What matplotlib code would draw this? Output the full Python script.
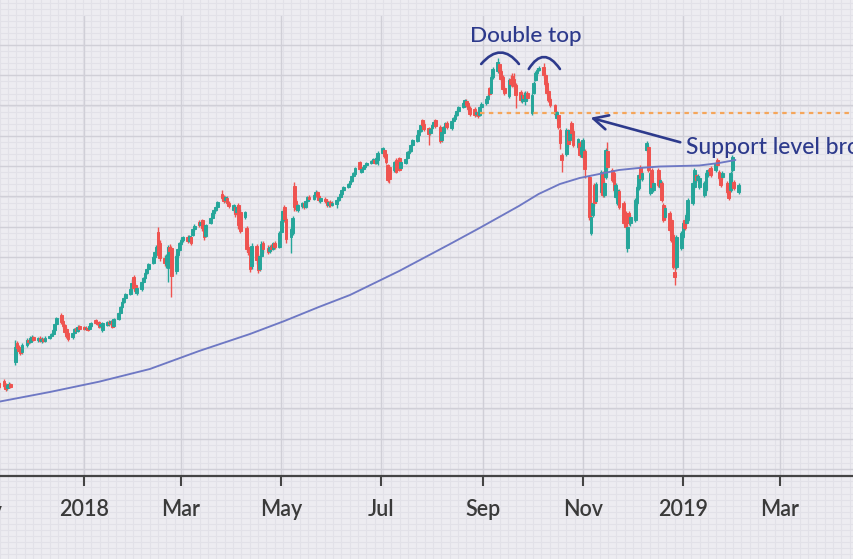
import matplotlib
matplotlib.use("Agg")
import matplotlib.pyplot as plt
import matplotlib.dates as mdates
from matplotlib.path import Path
from matplotlib.patches import PathPatch
from matplotlib.ticker import MultipleLocator, FuncFormatter
import numpy as np
import pandas as pd

# ---------------- data (one row per trading week) ----------------
opens = [
    88, 86,
    88, 84, 81, 83, 85,
    107, 126, 122, 119, 117,
    124, 129, 127, 130, 132,
    129, 131, 128, 130, 128,
    131, 133, 135, 139, 145,
    154, 148, 144, 140, 136,
    132, 136, 141, 138, 143,
    142, 140, 141, 140, 143,
    149, 147, 147, 143, 139,
    144, 147, 146, 148, 143,
    150, 156, 162, 167, 171,
    175, 181, 192, 184, 176,
    180, 187, 191, 196, 200,
    206, 212, 217, 237, 226,
    211, 205, 201, 222, 221,
    198, 214, 219, 225, 229,
    232, 228, 232, 234, 240,
    247, 244, 249, 241, 233,
    246, 251, 256, 259, 262,
    275, 272, 269, 271, 266,
    259, 262, 257, 264, 257,
    252, 241, 222, 217, 203,
    223, 211, 200, 213, 226,
    221, 218, 222, 220, 226,
    222, 237, 249, 262, 250,
    232, 236, 283, 268, 259,
    263, 266, 262, 268, 272,
    270, 274, 277, 273, 268,
    270, 268, 264, 267, 264,
    265, 269, 272, 275, 279,
    282, 285, 288, 293, 295,
    307, 297, 300, 302, 304,
    306, 308, 309, 306, 309,
    316, 319, 315, 304, 302,
    299, 309, 309, 311, 301,
    306, 311, 316, 318, 324,
    328, 334, 338, 349, 345,
    341, 336, 341, 344, 349,
    342, 329, 336, 342, 346,
    341, 348, 350, 354, 358,
    362, 366, 368, 366, 361,
    360, 355, 357, 354, 362,
    366, 370, 381, 376, 392,
    398, 405, 398, 392, 381,
    373, 390, 393, 390, 384,
    377, 368, 374, 368, 376,
    356, 376, 389, 396, 399,
    402, 394, 386, 378, 370,
    364, 351, 354, 339, 314,
    315, 338, 329, 346, 338,
    322, 326, 315, 312, 318,
    292, 236, 254, 284, 268,
    277, 296, 274, 292, 318,
    299, 296, 272, 266, 278,
    266, 256, 221, 256, 246,
    249, 266, 281, 302, 290,
    319, 322, 276, 299, 279,
    299, 282, 286, 264, 252,
    256, 249, 234, 197, 202,
    221, 232, 249, 246, 249,
    266, 282, 294, 289, 282,
    274, 279, 294, 299, 301,
    299, 309, 297, 294, 292,
    286, 282, 279, 299, 287,
    277,
]
closes = [
    85, 82,
    83, 80, 84, 85, 82,
    122, 121, 118, 116, 124,
    129, 127, 131, 132, 129,
    131, 128, 130, 128, 131,
    133, 135, 139, 145, 151,
    147, 143, 137, 133, 130,
    136, 140, 138, 142, 140,
    140, 141, 139, 143, 146,
    146, 145, 142, 145, 146,
    147, 145, 148, 142, 150,
    156, 162, 167, 171, 175,
    180, 186, 181, 178, 181,
    187, 191, 196, 200, 205,
    212, 217, 222, 214, 211,
    206, 213, 222, 218, 193,
    213, 220, 226, 229, 232,
    228, 233, 226, 240, 243,
    244, 247, 241, 232, 244,
    251, 256, 259, 262, 267,
    271, 268, 272, 266, 263,
    264, 255, 262, 244, 238,
    257, 220, 217, 200, 223,
    209, 199, 213, 225, 220,
    217, 222, 220, 226, 222,
    236, 248, 258, 250, 230,
    240, 251, 262, 260, 264,
    266, 262, 268, 272, 270,
    274, 277, 273, 269, 271,
    268, 264, 267, 264, 266,
    269, 272, 275, 279, 282,
    285, 288, 293, 296, 301,
    300, 300, 302, 304, 306,
    308, 310, 306, 311, 316,
    321, 313, 307, 289, 290,
    307, 297, 302, 299, 307,
    310, 317, 318, 324, 329,
    334, 339, 344, 344, 340,
    335, 340, 344, 347, 343,
    328, 337, 342, 346, 342,
    348, 351, 354, 358, 362,
    366, 369, 364, 360, 355,
    354, 357, 353, 362, 365,
    370, 373, 375, 392, 400,
    407, 398, 390, 380, 376,
    389, 385, 384, 383, 374,
    369, 374, 371, 376, 371,
    374, 386, 396, 399, 401,
    394, 385, 376, 369, 364,
    355, 357, 342, 326, 309,
    339, 325, 339, 336, 324,
    330, 314, 322, 329, 300,
    252, 252, 266, 266, 285,
    297, 274, 286, 319, 302,
    289, 279, 284, 279, 262,
    246, 242, 242, 246, 252,
    269, 282, 294, 291, 296,
    326, 299, 296, 282, 286,
    284, 289, 269, 249, 261,
    239, 229, 202, 192, 232,
    236, 246, 241, 254, 269,
    286, 299, 289, 293, 291,
    286, 296, 299, 298, 294,
    306, 304, 291, 284, 296,
    277, 271, 296, 312, 281,
    284,
]
highs = [
    90, 87,
    90, 86, 85, 87, 86,
    129, 128, 124, 121, 126,
    131, 131, 133, 134, 133,
    132, 133, 132, 131, 133,
    134, 136, 140, 146, 152,
    156, 149, 145, 142, 137,
    137, 141, 142, 144, 144,
    143, 143, 142, 144, 147,
    150, 148, 148, 146, 147,
    148, 149, 149, 149, 151,
    157, 163, 168, 173, 176,
    181, 190, 194, 186, 182,
    188, 192, 197, 201, 206,
    213, 218, 224, 242, 229,
    214, 215, 224, 225, 223,
    215, 221, 227, 231, 233,
    234, 234, 233, 241, 245,
    249, 248, 250, 243, 245,
    252, 257, 260, 264, 268,
    279, 274, 273, 273, 268,
    265, 263, 264, 266, 260,
    258, 243, 225, 219, 226,
    225, 214, 215, 228, 228,
    224, 224, 225, 227, 228,
    238, 250, 260, 264, 252,
    242, 253, 287, 270, 265,
    267, 268, 269, 273, 274,
    275, 279, 278, 274, 272,
    272, 270, 268, 269, 268,
    270, 273, 276, 280, 283,
    286, 289, 294, 297, 302,
    308, 301, 303, 305, 307,
    309, 311, 311, 312, 318,
    322, 320, 316, 305, 304,
    308, 311, 311, 312, 308,
    311, 318, 320, 325, 330,
    335, 340, 345, 350, 347,
    342, 341, 345, 349, 350,
    344, 338, 343, 347, 348,
    349, 352, 356, 360, 363,
    367, 370, 370, 367, 363,
    362, 359, 358, 364, 367,
    371, 375, 382, 394, 402,
    411, 407, 400, 394, 383,
    391, 394, 396, 396, 386,
    379, 376, 377, 378, 378,
    376, 388, 398, 401, 403,
    406, 396, 388, 380, 372,
    365, 358, 355, 341, 316,
    341, 340, 340, 348, 340,
    331, 328, 324, 331, 320,
    294, 254, 268, 286, 287,
    299, 298, 288, 321, 327,
    301, 298, 286, 281, 280,
    268, 258, 244, 258, 254,
    271, 284, 296, 304, 298,
    328, 324, 298, 301, 288,
    301, 291, 288, 266, 263,
    258, 251, 236, 202, 234,
    238, 248, 251, 256, 271,
    288, 301, 296, 295, 293,
    288, 298, 300, 301, 303,
    308, 311, 299, 296, 298,
    288, 284, 298, 314, 289,
    286,
]
lows = [
    83, 80,
    81, 78, 79, 82, 81,
    104, 119, 116, 114, 115,
    122, 125, 126, 129, 128,
    127, 127, 126, 127, 127,
    130, 132, 134, 138, 144,
    145, 141, 135, 131, 128,
    130, 135, 137, 137, 139,
    139, 139, 138, 139, 142,
    145, 144, 141, 141, 137,
    143, 143, 144, 141, 142,
    149, 155, 161, 166, 170,
    174, 180, 179, 176, 174,
    178, 186, 190, 195, 199,
    205, 211, 216, 212, 208,
    203, 201, 187, 215, 172,
    195, 212, 217, 224, 227,
    226, 227, 224, 233, 238,
    242, 243, 238, 229, 232,
    245, 250, 254, 258, 261,
    269, 266, 267, 264, 261,
    257, 252, 254, 240, 236,
    250, 217, 214, 197, 200,
    205, 196, 198, 212, 216,
    215, 216, 218, 219, 220,
    221, 236, 248, 247, 226,
    216, 234, 258, 258, 257,
    261, 260, 261, 266, 268,
    269, 272, 271, 267, 266,
    266, 262, 262, 262, 263,
    261, 268, 271, 274, 278,
    281, 284, 287, 292, 294,
    298, 296, 299, 301, 303,
    305, 307, 305, 305, 304,
    315, 311, 305, 287, 286,
    297, 296, 300, 298, 300,
    305, 310, 315, 317, 323,
    327, 333, 337, 342, 338,
    324, 334, 340, 343, 341,
    326, 327, 335, 341, 340,
    339, 346, 349, 353, 357,
    361, 365, 362, 358, 353,
    352, 353, 351, 353, 361,
    364, 369, 373, 375, 390,
    396, 396, 388, 378, 374,
    371, 383, 382, 381, 361,
    367, 366, 369, 364, 369,
    354, 375, 388, 394, 398,
    391, 383, 374, 367, 362,
    353, 349, 340, 320, 297,
    313, 322, 327, 334, 322,
    320, 312, 313, 310, 291,
    249, 234, 252, 263, 266,
    275, 272, 272, 290, 300,
    287, 277, 270, 264, 260,
    244, 240, 217, 244, 243,
    247, 264, 279, 289, 288,
    317, 297, 274, 280, 277,
    282, 280, 267, 247, 250,
    237, 227, 200, 184, 200,
    219, 230, 239, 244, 247,
    264, 280, 287, 287, 280,
    272, 277, 292, 296, 292,
    297, 302, 289, 282, 290,
    275, 269, 277, 297, 279,
    275,
]
first_day = "2017-11-09"

# long moving-average line (read at points along the curve)
ma_dates = ["2017-11-09", "2017-12-11", "2018-01-10", "2018-02-10", "2018-02-25",
            "2018-03-12", "2018-04-12", "2018-05-03", "2018-05-24", "2018-06-12",
            "2018-07-12", "2018-08-12", "2018-08-30", "2018-09-11", "2018-09-23",
            "2018-10-05", "2018-10-18", "2018-10-30", "2018-11-11", "2018-11-23",
            "2018-12-05", "2018-12-18", "2018-12-30", "2019-01-11", "2019-01-23",
            "2019-02-02"]
ma_values = [67, 77, 87.3, 100, 109, 118, 135, 148, 162, 174,
             198, 225, 241, 252, 263, 275, 285, 291, 295, 299,
             301, 302.5, 303, 303.5, 306, 309]

support_level = 356
support_start = "2018-08-30"

tick_months = ["2018-01-01", "2018-03-01", "2018-05-01", "2018-07-01",
               "2018-09-01", "2018-11-01", "2019-01-01", "2019-03-01"]

# ---------------- style ----------------
BG = "#EDECF1"
MINOR = "#E2E1E8"
MAJOR = "#D0CFD7"
UP = "#26A69A"
DOWN = "#EF5350"
MA_COL = "#6E78C4"
SUP_COL = "#F5A65B"
NAVY = "#2D3A8C"
FONT = ["Lato", "DejaVu Sans"]

W, H = 854, 559
fig = plt.figure(figsize=(W / 100, H / 100), dpi=100)
fig.patch.set_facecolor(BG)

# paper texture (fine grid over the whole figure)
bg = fig.add_axes([0, 0, 1, 1])
bg.set_xlim(0, W)
bg.set_ylim(H, 0)
bg.axis("off")
bg.set_zorder(0)
for xv in np.arange(83.0 - 8.333 * 10, W + 1, 8.333):
    bg.axvline(xv, color=MINOR, lw=0.75)
for yv in np.arange(439.0 - 6.06 * 73, H + 1, 6.06):
    bg.axhline(yv, color=MINOR, lw=0.75)

ax = fig.add_axes([0, 83 / H, 1, 460 / H])
ax.set_facecolor("none")
ax.set_zorder(1)

x = mdates.date2num(pd.bdate_range(first_day, periods=len(opens)))
o = np.array(opens, float)
c = np.array(closes, float)
h = np.array(highs, float)
l = np.array(lows, float)
col = np.where(c >= o, UP, DOWN)

ax.vlines(x, l, h, colors=col, lw=1.0, zorder=3)
ax.bar(x, np.maximum(np.abs(c - o), 1.0), bottom=np.minimum(o, c), width=1.7,
       color=col, edgecolor=col, linewidth=0.7, zorder=4)

ax.plot(mdates.date2num(pd.to_datetime(ma_dates)), ma_values, color=MA_COL,
        lw=1.35, zorder=5, solid_capstyle="round", solid_joinstyle="round")

base = mdates.date2num(pd.Timestamp("2018-01-01"))
ax.set_xlim(base - 51.4, base + 469.3)
ax.set_ylim(-7, 453)

ax.plot([mdates.date2num(pd.Timestamp(support_start)), base + 480],
        [support_level, support_level], color=SUP_COL, lw=1.6,
        linestyle=(0, (2.0, 2.0)), zorder=5, clip_on=True)

# grid + axes
ax.yaxis.set_major_locator(MultipleLocator(30.3))
ax.set_xticks(mdates.date2num(pd.to_datetime(tick_months)))


def fmt(v, pos):
    d = mdates.num2date(v)
    return str(d.year) if d.month == 1 else d.strftime("%b")


ax.xaxis.set_major_formatter(FuncFormatter(fmt))
ax.grid(True, which="major", color=MAJOR, lw=1.0)
ax.set_axisbelow(True)
for s in ["top", "left", "right"]:
    ax.spines[s].set_visible(False)
ax.spines["bottom"].set_color("#444444")
ax.spines["bottom"].set_linewidth(1.6)
ax.tick_params(axis="y", left=False, labelleft=False)
ax.tick_params(axis="x", direction="out", length=7.5, width=1.5, color="#444444",
               pad=9, labelsize=15.5, labelcolor="#3a3a3a")
for lab in ax.get_xticklabels():
    lab.set_fontfamily(FONT)
    lab.set_fontweight("semibold")

# partially visible label at the left edge
ax.text(mdates.date2num(pd.Timestamp("2017-10-31")), -0.0775, "Nov",
        transform=ax.get_xaxis_transform(), ha="center", va="center",
        fontsize=15.5, family=FONT, fontweight="semibold", color="#3a3a3a",
        clip_on=False)

# annotations
def d(s):
    return mdates.date2num(pd.Timestamp(s))

ax.text(d("2018-09-27"), 433, "Double top", ha="center", va="center",
        fontsize=16.2, family=FONT, fontweight="medium", color=NAVY, zorder=6)
for a, m, b, ya, ym in [("2018-08-31", "2018-09-12", "2018-09-23", 405, 428),
                        ("2018-09-29", "2018-10-08", "2018-10-18", 400, 424)]:
    p = Path([(d(a), ya), (d(m), ym), (d(b), ya)],
             [Path.MOVETO, Path.CURVE3, Path.CURVE3])
    ax.add_patch(PathPatch(p, fill=False, edgecolor=NAVY, lw=1.9, zorder=6,
                           capstyle="round"))

ax.annotate("", xy=(d("2018-11-04"), 352), xytext=(d("2019-01-01"), 326),
            arrowprops=dict(arrowstyle="->", color=NAVY, lw=1.9,
                            mutation_scale=26), zorder=6)
ax.text(d("2019-01-03"), 322, "Support level broken", ha="left", va="center",
        fontsize=16.5, family=FONT, fontweight="medium", color=NAVY, zorder=6,
        clip_on=False)

fig.savefig("out.png", dpi=100, facecolor=BG)
